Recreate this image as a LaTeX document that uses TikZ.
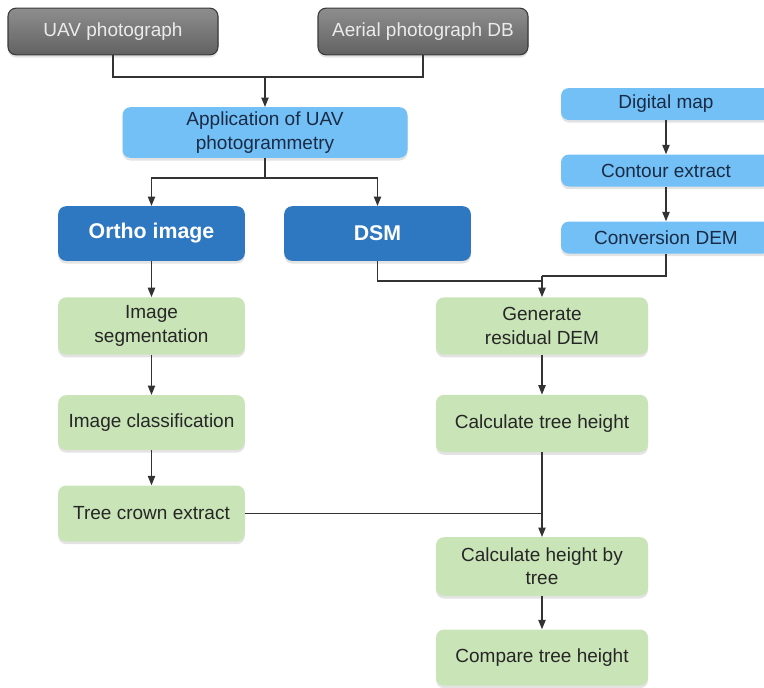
\documentclass[tikz,border=0pt]{standalone}
\usepackage{fontspec}
\setmainfont{Liberation Sans}
\usetikzlibrary{arrows.meta,shadows,positioning}
\definecolor{grayfill}{HTML}{7A7A7A}
\definecolor{grayedge}{HTML}{3A3A3A}
\definecolor{lblue}{HTML}{72C0F5}
\definecolor{dblue}{HTML}{2E78C2}
\definecolor{lgreen}{HTML}{C9E4B7}
\definecolor{navy}{HTML}{1B2B45}
\definecolor{linec}{HTML}{333333}
\tikzset{
  base/.style={rounded corners=6pt, align=center, inner sep=0pt,
    font=\fontsize{14.25}{17.5}\selectfont,
    drop shadow={shadow xshift=0pt, shadow yshift=-2pt, opacity=0.22}},
  graybox/.style={base, fill=grayfill, draw=grayedge, line width=0.8pt, text=white!92!black,
    top color=grayfill!85!white, bottom color=grayfill!80!black},
  lbluebox/.style={base, fill=lblue, text=navy},
  dbluebox/.style={base, fill=dblue, text=white, font=\fontsize{16}{19}\selectfont\bfseries},
  greenbox/.style={base, fill=lgreen, text=black!85},
  conn/.style={draw=linec, line width=0.9pt},
  arr/.style={conn, -{Triangle[length=7pt,width=5.5pt]}}
}
\begin{document}
\begin{tikzpicture}[x=0.75pt,y=-0.75pt]
\useasboundingbox (0,0) rectangle (764,687);
% top gray
\node[graybox, minimum width=157.5pt, minimum height=35pt] (uav) at (113,31.5) {UAV photograph};
\node[graybox, minimum width=157.5pt, minimum height=35pt] (aer) at (423,31.5) {Aerial photograph DB};
% application
\node[lbluebox, minimum width=213.75pt, minimum height=38pt] (app) at (265,132.5) {Application of UAV\\photogrammetry};
% dark blue
\node[dbluebox, minimum width=140pt, minimum height=41pt] (ortho) at (151.5,233.5) {Ortho image};
\node[dbluebox, minimum width=140pt, minimum height=41pt] (dsm) at (377.5,233.5) {DSM};
% right blue column
\node[lbluebox, minimum width=157.5pt, minimum height=24pt] (dm) at (666,104) {Digital map};
\node[lbluebox, minimum width=157.5pt, minimum height=24pt] (ce) at (666,170.5) {Contour extract};
\node[lbluebox, minimum width=157.5pt, minimum height=24pt] (cd) at (666,237.5) {Conversion DEM};
% left green
\node[greenbox, minimum width=140pt, minimum height=43pt] (seg) at (151.5,326) {Image\\segmentation};
\node[greenbox, minimum width=140pt, minimum height=41pt] (cls) at (151.5,422.5) {Image classification};
\node[greenbox, minimum width=140pt, minimum height=42pt] (crown) at (151.5,513.5) {Tree crown extract};
% right green
\node[greenbox, minimum width=159pt, minimum height=43pt] (gen) at (542,326) {Generate\\residual DEM};
\node[greenbox, minimum width=159pt, minimum height=43pt] (cth) at (542,423.5) {Calculate tree height};
\node[greenbox, minimum width=159pt, minimum height=44pt] (chb) at (542,566.5) {Calculate height by\\tree};
\node[greenbox, minimum width=159pt, minimum height=42pt] (cmp) at (542,657.5) {Compare tree height};
% junctions
\coordinate (j1) at (265,77);
\coordinate (j2) at (265,178);
\coordinate (j3) at (542,281);
\coordinate (j3b) at (542,276);
\coordinate (j4) at (542,513.5);
% connectors
\draw[conn] (uav.south) |- (j1) -| (aer.south);
\draw[arr] (j1) -- (app.north);
\draw[conn] (app.south) -- (j2);
\draw[arr] (j2) -| (ortho.north);
\draw[arr] (j2) -| (dsm.north);
\draw[arr] (ortho) -- (seg);
\draw[arr] (seg) -- (cls);
\draw[arr] (cls) -- (crown);
\draw[arr] (dm) -- (ce);
\draw[arr] (ce) -- (cd);
\draw[conn] (cd.south) |- (j3b);
\draw[conn] (dsm.south) |- (j3);
\draw[arr] (j3b) -- (gen.north);
\draw[arr] (gen) -- (cth);
\draw[conn] (crown.east) -- (j4);
\draw[arr] (cth.south) -- (chb.north);
\draw[arr] (chb) -- (cmp);
\end{tikzpicture}
\end{document}
